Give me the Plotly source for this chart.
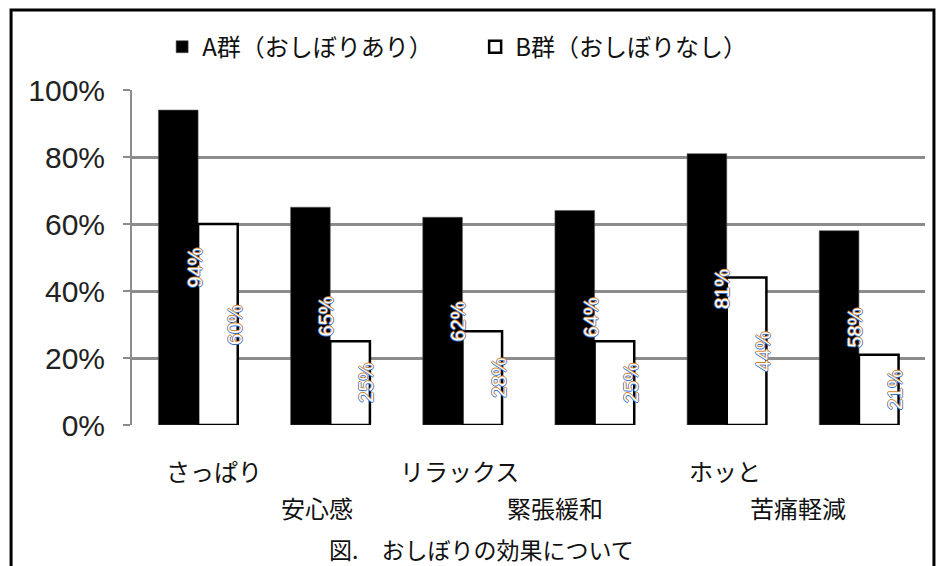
import plotly.graph_objects as go

# Survey results: share of respondents reporting each effect (%)
categories = ["さっぱり", "安心感", "リラックス", "緊張緩和", "ホッと", "苦痛軽減"]
group_a = [94, 65, 62, 64, 81, 58]   # A群（おしぼりあり）
group_b = [60, 25, 28, 25, 44, 21]   # B群（おしぼりなし）
series_names = ["A群（おしぼりあり）", "B群（おしぼりなし）"]
y_ticks = [0, 20, 40, 60, 80, 100]
y_tick_labels = ["0%", "20%", "40%", "60%", "80%", "100%"]
caption = "図.　おしぼりの効果について"

# ---- styling ----
JP = "Noto Sans CJK JP"
LAT = "Liberation Sans"
GRID = "#8c8c8c"
BAR_W = 0.30
label_row = [0, 1, 0, 1, 0, 1]            # staggered category labels
label_nudge = [16, -13, -3, -40, -2, -61]  # px, horizontal nudge of each category label

fig = go.Figure()
fig.add_trace(go.Bar(
    x=categories, y=group_a, name=series_names[0],
    width=BAR_W, offset=-BAR_W,
    marker=dict(color="#000000", line=dict(color="#555555", width=0.6)),
))
fig.add_trace(go.Bar(
    x=categories, y=group_b, name=series_names[1],
    width=BAR_W, offset=0,
    marker=dict(color="#ffffff", line=dict(color="#000000", width=2.5)),
))

annotations = []
# value labels: light text turned 90°, sitting on the right edge of each bar
label_font = dict(family=LAT, size=20, color="#ffffff",
                  shadow="1px 0px 0px #cf7d26, -1px 0px 0px #2c6fcf, "
                         "0px 1px 0px #8f6f8f, 0px -1px 0px #5d86c4")
for i, (va, vb) in enumerate(zip(group_a, group_b)):
    annotations.append(dict(x=i - 0.03, y=va / 2, xref="x", yref="y",
                            text=f"{va}%", textangle=-90, showarrow=False,
                            font=label_font))
    annotations.append(dict(x=i + BAR_W - 0.025, y=vb / 2, xref="x", yref="y",
                            text=f"{vb}%", textangle=-90, showarrow=False,
                            font=label_font))

# category labels in two staggered rows
for i, cat in enumerate(categories):
    annotations.append(dict(x=i, y=0, xref="x", yref="y", text=cat,
                            showarrow=False, yanchor="middle",
                            yshift=-45 - 37 * label_row[i], xshift=label_nudge[i],
                            font=dict(family=JP, size=24, color="#111111")))

annotations.append(dict(x=0.441, y=-0.369, xref="paper", yref="paper",
                        text=caption, showarrow=False, yanchor="middle",
                        font=dict(family=JP, size=23, color="#111111")))

fig.update_layout(
    width=936, height=566,
    margin=dict(l=132, r=11, t=90, b=141),
    paper_bgcolor="#ffffff", plot_bgcolor="#ffffff",
    barmode="group",
    showlegend=True,
    legend=dict(orientation="h", x=0.038, xanchor="left", y=1.128, yanchor="middle",
                font=dict(family=JP, size=24, color="#111111"),
                entrywidth=268, bgcolor="rgba(0,0,0,0)"),
    xaxis=dict(type="category", range=[-0.5, 5.5], showticklabels=False,
               showgrid=False, zeroline=False, showline=False, ticks=""),
    yaxis=dict(range=[0, 100], tickvals=y_ticks, ticktext=y_tick_labels,
               showgrid=True, gridcolor=GRID, gridwidth=2.5, zeroline=False,
               showline=True, linecolor=GRID, linewidth=2,
               ticks="outside", ticklen=7, tickwidth=2, tickcolor=GRID,
               ticklabelstandoff=12,
               tickfont=dict(family=LAT, size=30, color="#222222")),
    annotations=annotations,
    shapes=[dict(type="rect", xref="paper", yref="paper",
                 x0=-0.1525, x1=1.0113, y0=-0.45, y1=1.2388,
                 line=dict(color="#000000", width=3), fillcolor="rgba(0,0,0,0)",
                 layer="above")],
)

fig.write_html("out.html")
